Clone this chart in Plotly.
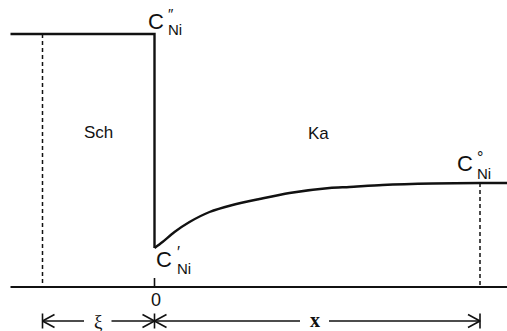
import plotly.graph_objects as go

# ---- data (arbitrary units: position relative to the interface, concentration) ----
x_left_edge = -1.44      # start of the drawn slag region
xi_pos = -1.12           # position -xi
x_interface = 0.0
x_right_dash = 3.255     # position x (bulk reached)
x_right_edge = 3.525

C_double = 2.53          # C''_Ni (in slag)
C_single = 0.39          # C'_Ni (at interface, metal side)
C_zero = 1.04            # C°_Ni (bulk metal)

curve_x = [0.0, 0.08, 0.2, 0.35, 0.55, 0.78, 1.05, 1.35, 1.75, 1.95, 2.28, 2.78, 3.255, 3.525]
curve_y = [0.39, 0.45, 0.55, 0.65, 0.75, 0.82, 0.88, 0.94, 0.99, 1.0, 1.02, 1.035, 1.04, 1.04]

arrow_y = -0.34
tick_labels = ["0"]
region_labels = ["Sch", "Ka"]
conc_marks = ["″", "′", "°"]

BLACK = "#111111"
fig = go.Figure()

def line(xs, ys, width=2.4, dash=None):
    fig.add_trace(go.Scatter(x=xs, y=ys, mode="lines",
                             line=dict(color=BLACK, width=width, dash=dash),
                             hoverinfo="skip", showlegend=False))

# slag plateau and jump at the interface
line([x_left_edge, x_interface, x_interface], [C_double, C_double, C_single], 2.4)
# concentration profile in the metal
fig.add_trace(go.Scatter(x=curve_x, y=curve_y, mode="lines",
                         line=dict(color=BLACK, width=2.4, shape="spline", smoothing=0.8),
                         hoverinfo="skip", showlegend=False))
# baseline + tick at 0
line([x_left_edge, x_right_edge], [0, 0], 2.0)
line([x_interface, x_interface], [0, 0.09], 1.6)
# dashed verticals
line([xi_pos, xi_pos], [C_double, 0], 1.5, "4px,3px")
line([x_right_dash, x_right_dash], [C_zero, 0], 1.5, "4px,3px")

# dimension arrows
ah_len, ah_h, bar_h = 0.12, 0.065, 0.075
def chevron(tip, direction):
    line([tip - direction * ah_len, tip, tip - direction * ah_len],
         [arrow_y + ah_h, arrow_y, arrow_y - ah_h], 1.6)
def bar(xp):
    line([xp, xp], [arrow_y - bar_h, arrow_y + bar_h], 1.6)

line([xi_pos, -0.705], [arrow_y, arrow_y], 1.6)
line([-0.43, x_interface], [arrow_y, arrow_y], 1.6)
line([x_interface, 1.455], [arrow_y, arrow_y], 1.6)
line([1.745, x_right_dash], [arrow_y, arrow_y], 1.6)
for b in (xi_pos, x_interface, x_right_dash):
    bar(b)
chevron(xi_pos, -1)
chevron(x_interface, 1)
chevron(x_interface, -1)
chevron(x_right_dash, 1)

SANS = "Liberation Sans, Arial, Helvetica, sans-serif"
SERIF = "Liberation Serif, DejaVu Serif, serif"
ann = []
def text(x, y, s, size, family=SANS, bold=False, xanchor="center", align="center"):
    ann.append(dict(x=x, y=y, xref="x", yref="y", text=(f"<b>{s}</b>" if bold else s),
                    showarrow=False, xanchor=xanchor, yanchor="middle", align=align,
                    borderpad=0, font=dict(family=family, size=size, color=BLACK)))

def py(v):  # helper: label heights given in picture rows of the reference
    return (287 - v) / 100.0

def conc_label(xb, y_c, y_stack, mark, mark_size):
    text(xb, y_c, "C", 22, xanchor="right")
    stack = f"<span style='font-size:{mark_size}px'>{mark}</span><br><span style='font-size:15px'>Ni</span>"
    text(xb + 0.025, y_stack, stack, 12, xanchor="left", align="left")

conc_label(0.10, py(21), py(21.5), conc_marks[0], 15)
conc_label(0.185, py(259), py(260), conc_marks[1], 16)
conc_label(3.19, py(163.5), py(165), conc_marks[2], 16)

text(-0.565, py(132), region_labels[0], 17)
text(1.635, py(133), region_labels[1], 17)
text(x_interface + 0.01, py(300), tick_labels[0], 18)
text(-0.565, py(321), "ξ", 19, SERIF)
text(1.60, py(320), "x", 20, SERIF, bold=True)

fig.update_layout(
    width=507, height=331,
    margin=dict(l=0, r=0, t=0, b=0),
    paper_bgcolor="white", plot_bgcolor="white",
    xaxis=dict(range=[-1.545, 3.525], visible=False, fixedrange=True),
    yaxis=dict(range=[-0.44, 2.87], visible=False, fixedrange=True),
    annotations=ann,
    showlegend=False,
)
fig.write_html("out.html", config={"displayModeBar": False},
               post_script="document.body.style.margin='0';document.body.style.overflow='hidden';")
